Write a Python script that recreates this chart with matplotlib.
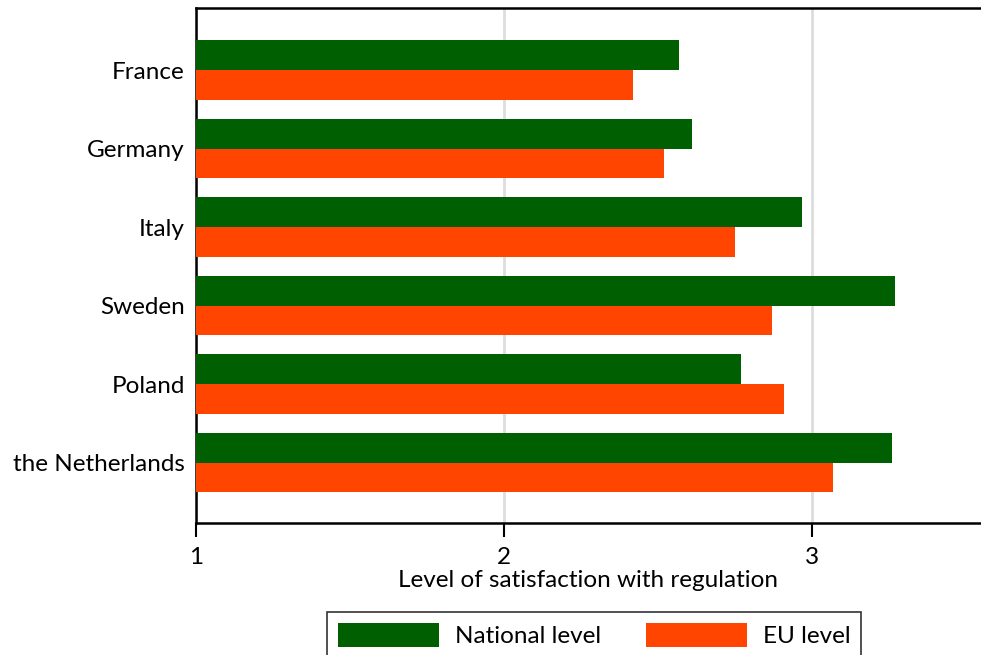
import numpy as np
import matplotlib
matplotlib.use("Agg")
import matplotlib.pyplot as plt

plt.rcParams['font.family'] = ['Lato', 'DejaVu Sans']

# donnees
countries = ["France", "Germany", "Italy", "Sweden", "Poland", "the Netherlands"]
national = [2.57, 2.61, 2.97, 3.27, 2.77, 3.26]
eu = [2.42, 2.52, 2.75, 2.87, 2.91, 3.07]

green = "#005f00"
orange = "#ff4500"
fs = 17.5

fig = plt.figure(figsize=(9.81, 6.55), dpi=100)
ax = fig.add_axes([196/981., 132/655., 785/981., 515/655.])

y = np.arange(len(countries))
h = 0.38
ax.barh(y - h/2, national, height=h, left=0, color=green, label="National level", zorder=3)
ax.barh(y + h/2, eu, height=h, left=0, color=orange, label="EU level", zorder=3)

ax.set_xlim(1, 3.55)
ax.set_ylim(5.77, -0.79)
ax.set_yticks(y)
ax.set_yticklabels(countries, fontsize=fs)
ax.tick_params(axis='y', length=0, pad=8)
ax.set_xticks([1, 2, 3])
ax.set_xticklabels(["1", "2", "3"], fontsize=fs)
ax.tick_params(axis='x', length=10, width=1.5, direction='out', pad=7)
ax.grid(axis='x', color='#dddddd', linewidth=2, zorder=0)
ax.spines['right'].set_visible(False)
for s in ['left', 'top', 'bottom']:
    ax.spines[s].set_linewidth(1.8)
ax.set_xlabel("Level of satisfaction with regulation", fontsize=fs, labelpad=2)

leg = fig.legend(loc='upper center', bbox_to_anchor=(594/981., 43/655.), ncol=2,
                 fontsize=fs, handlelength=4.15, handleheight=1.15, frameon=True,
                 fancybox=False, edgecolor='black', borderpad=0.45, borderaxespad=0,
                 columnspacing=1.85, handletextpad=0.66)
leg.get_frame().set_linewidth(1.2)

plt.savefig("out.png", dpi=100)
